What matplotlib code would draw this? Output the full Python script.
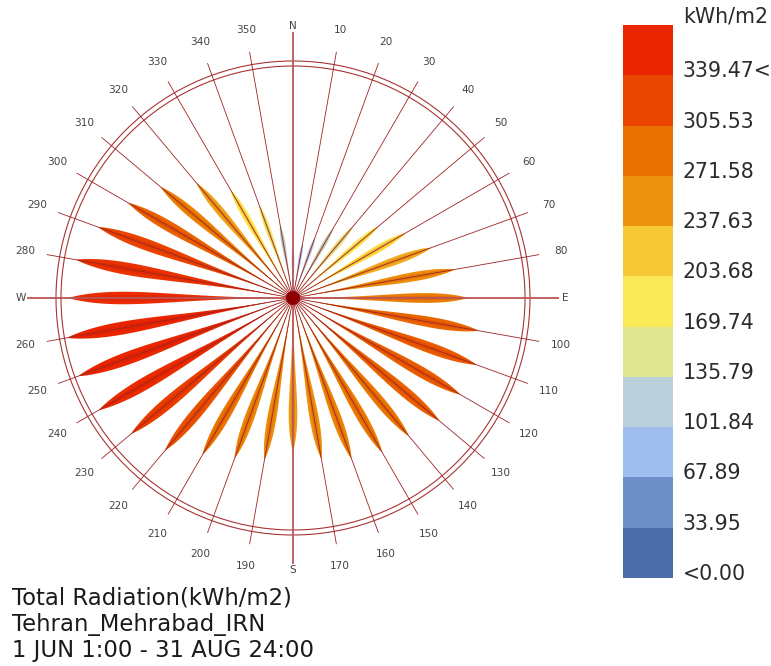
import numpy as np
import matplotlib
matplotlib.use("Agg")
import matplotlib.pyplot as plt
from matplotlib.colors import LinearSegmentedColormap
from matplotlib.patches import Polygon, Rectangle, Circle

# ---------------- data ----------------
directions = list(range(0, 360, 10))          # degrees clockwise from North
radiation = [74, 82, 96, 119, 139, 166, 193, 218, 243, 259,
             279, 289, 286, 283, 267, 264, 253, 242, 227, 243,
             253, 268, 295, 313, 332, 338, 339.47, 332, 326, 307,
             282, 256, 222, 185, 147, 110]      # kWh/m2
legend_min = 0.0
legend_max = 339.47
legend_labels = ["<0.00", "33.95", "67.89", "101.84", "135.79", "169.74",
                 "203.68", "237.63", "271.58", "305.53", "339.47<"]
legend_unit = "kWh/m2"
title_lines = ["Total Radiation(kWh/m2)", "Tehran_Mehrabad_IRN",
               "1 JUN 1:00 - 31 AUG 24:00"]
cardinals = {0: "N", 90: "E", 180: "S", 270: "W"}

# Ladybug default colour ramp
lb_colors = [(75, 107, 169), (115, 147, 202), (170, 200, 247), (193, 213, 208),
             (245, 239, 103), (252, 230, 74), (239, 156, 21), (234, 123, 0),
             (234, 74, 0), (234, 38, 0)]
cmap = LinearSegmentedColormap.from_list("ladybug", [tuple(c / 255 for c in col) for col in lb_colors])

# ---------------- layout ----------------
W, H = 771, 666
fig = plt.figure(figsize=(W / 100, H / 100), dpi=100)
ax = fig.add_axes([0, 0, 1, 1])
ax.set_xlim(0, W)
ax.set_ylim(H, 0)
ax.axis("off")

cx, cy = 293, 298
petal_max_len = 229.0              # pixel length of the largest value
scale = petal_max_len / max(radiation)
r_in, r_out = 232, 237
spoke_len = 250
card_len = 266
label_r = 272

def unit(deg):
    a = np.radians(deg)
    return np.sin(a), -np.cos(a)

def norm(v):
    return (v - legend_min) / (legend_max - legend_min)

# petals
t = np.linspace(0, 1, 120)
profile = np.clip(np.sin(np.pi * t ** 2.5), 0, None) ** 0.8
for d, v in zip(directions, radiation):
    L = v * scale
    ux, uy = unit(d)
    nx, ny = -uy, ux
    col = np.array(cmap(norm(v))[:3])
    for wfac, c in ((0.028, col), (0.013, col * np.array([0.96, 0.86, 0.8]))):
        w = wfac * L * profile
        xs = cx + L * t * ux
        ys = cy + L * t * uy
        px = np.concatenate([xs + w * nx, (xs - w * nx)[::-1]])
        py = np.concatenate([ys + w * ny, (ys - w * ny)[::-1]])
        ax.add_patch(Polygon(np.column_stack([px, py]), closed=True,
                             facecolor=c, edgecolor="none", zorder=2))

# circles
for r in (r_in, r_out):
    ax.add_patch(Circle((cx, cy), r, facecolor="none", edgecolor="#a83434",
                        lw=0.8, zorder=3))

# spokes and labels
for d in directions:
    ux, uy = unit(d)
    if d in cardinals:
        ax.plot([cx, cx + card_len * ux], [cy, cy + card_len * uy],
                color="#bb5656", lw=1.3, zorder=4, solid_capstyle="butt")
        txt = cardinals[d]
    else:
        ax.plot([cx, cx + spoke_len * ux], [cy, cy + spoke_len * uy],
                color="#a02424", lw=0.6, zorder=4, solid_capstyle="butt")
        txt = str(d)
    ax.text(cx + label_r * ux, cy + label_r * uy, txt, fontsize=7.6,
            color="#444444", ha="center", va="center", zorder=5)

ax.add_patch(Circle((cx, cy), 7, facecolor="#8e0000", edgecolor="none", zorder=6))

# legend
lx0, lx1 = 623, 673
ly_top, ly_bot = 25, 578
nseg = len(legend_labels)
seg_h = (ly_bot - ly_top) / nseg
for i in range(nseg):
    y_bottom = ly_bot - i * seg_h
    ax.add_patch(Rectangle((lx0, y_bottom - seg_h), lx1 - lx0, seg_h,
                           facecolor=cmap(i / (nseg - 1)), edgecolor="none", zorder=2))
    ax.text(683, y_bottom - 4, legend_labels[i], fontsize=14.8, color="#2a2a2a",
            ha="left", va="center")
ax.text(683, 17, legend_unit, fontsize=14.8, color="#2a2a2a", ha="left", va="center")

# title block
for k, line in enumerate(title_lines):
    ax.text(12, 598 + 26 * k, line, fontsize=16.4, color="#1a1a1a",
            ha="left", va="center")

fig.savefig("out.png", dpi=100)
